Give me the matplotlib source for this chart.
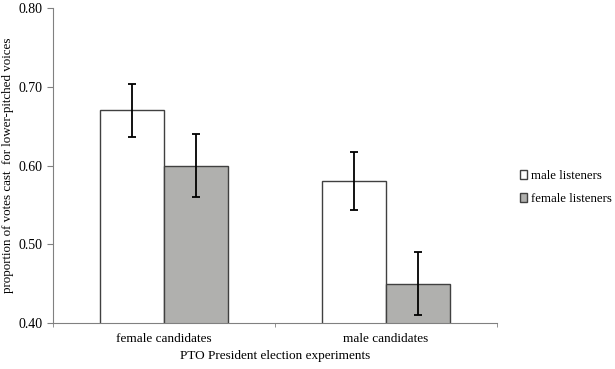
import matplotlib.pyplot as plt
import numpy as np

plt.rcParams['font.family'] = ['Liberation Serif', 'DejaVu Serif']

categorias = ['female candidates', 'male candidates']
grupos = ['male listeners', 'female listeners']
valores_male = [0.67, 0.58]
valores_female = [0.60, 0.45]
erro_male = [0.034, 0.037]
erro_female = [0.040, 0.040]

fig = plt.figure(figsize=(6.15, 3.69), dpi=100)
ax = fig.add_axes([0.0862, 0.1247, 0.7218, 0.8533])

x = np.arange(len(categorias)) + 0.5
w = 0.288
ax.bar(x - w/2, valores_male, w, color='white', edgecolor='#404040',
       linewidth=1, label=grupos[0], zorder=2)
ax.bar(x + w/2, valores_female, w, color='#b0b0ae', edgecolor='#404040',
       linewidth=1, label=grupos[1], zorder=2)
ax.errorbar(x - w/2, valores_male, yerr=erro_male, fmt='none', ecolor='black',
            elinewidth=1.3, capsize=3, capthick=1.3, zorder=3)
ax.errorbar(x + w/2, valores_female, yerr=erro_female, fmt='none', ecolor='black',
            elinewidth=1.3, capsize=3, capthick=1.3, zorder=3)

ax.set_xlim(0, 2)
ax.set_ylim(0.40, 0.80)
ax.set_yticks([0.40, 0.50, 0.60, 0.70, 0.80])
ax.set_yticklabels(['%.2f' % v for v in [0.40, 0.50, 0.60, 0.70, 0.80]], fontsize=10)
ax.set_xticks(x)
ax.set_xticklabels(categorias, fontsize=9.5)
ax.set_xticks([0, 1, 2], minor=True)
ax.tick_params(axis='x', which='major', length=0, pad=7)
ax.tick_params(axis='x', which='minor', length=3, color='#808080')
ax.tick_params(axis='y', length=4, color='#808080')

for s in ['top', 'right']:
    ax.spines[s].set_visible(False)
ax.spines['left'].set_color('#808080')
ax.spines['bottom'].set_color('#808080')

ax.set_ylabel('proportion of votes cast  for lower-pitched voices', fontsize=9.4)
ax.yaxis.set_label_coords(-0.088, 0.50)
ax.set_xlabel('PTO President election experiments', fontsize=9.5, labelpad=4)

ax.legend(loc='center left', bbox_to_anchor=(1.025, 0.43), frameon=False, fontsize=9.3,
          handlelength=0.6, handleheight=0.6, handletextpad=0.3, labelspacing=0.85)

fig.savefig('out.png', dpi=100)
